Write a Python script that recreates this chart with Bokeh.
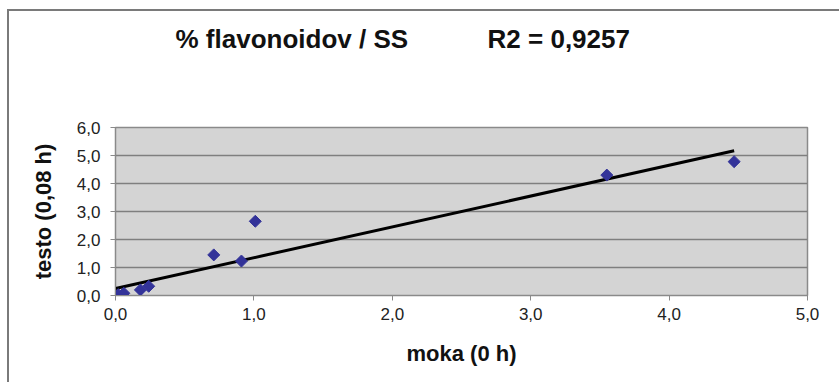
import math
from bokeh.plotting import figure
from bokeh.models import Range1d, CustomJSTickFormatter, FixedTicker, ColumnDataSource, Title
from bokeh.embed import file_html
from bokeh.resources import INLINE

# data
moka = [0.00, 0.02, 0.06, 0.18, 0.24, 0.71, 0.91, 1.01, 3.55, 4.47]
testo = [0.00, 0.03, 0.08, 0.20, 0.33, 1.45, 1.23, 2.65, 4.30, 4.78]
trend_intercept = 0.25
trend_slope = 1.10
x_ticks = [0, 1, 2, 3, 4, 5]
y_ticks = [0, 1, 2, 3, 4, 5, 6]
title_text = "% flavonoidov / SS"
r2_text = "R2 = 0,9257"
x_label = "moka (0 h)"
y_label = "testo (0,08 h)"

FONT = "Liberation Sans"
W, H = 839, 382
FL, FR, FT, FB = 115, 807, 127, 295  # frame edges in pixels

p = figure(width=W, height=H, output_backend="svg", toolbar_location=None, title=None,
           x_range=Range1d(0, 5), y_range=Range1d(0, 6),
           min_border_left=FL, min_border_right=W - FR, min_border_top=FT, min_border_bottom=H - FB)
p.background_fill_color = "#d4d4d4"
p.border_fill_alpha = 0
p.outline_line_color = "#8a8a8a"
p.outline_line_width = 1.5
p.styles = {
    "background": "linear-gradient(#7a7a7a, #7a7a7a) 7px 9px / 100% 2px no-repeat, "
                  "linear-gradient(#7a7a7a, #7a7a7a) 7px 9px / 2px 100% no-repeat, white",
}

# spacer (closest to the frame) then the real title above it
p.add_layout(Title(text="\u00a0", text_font_size="12px", standoff=58), "above")
p.add_layout(Title(text=title_text + "\u00a0" * 11 + r2_text, text_font=FONT,
                   text_font_style="bold", text_font_size="26px", text_color="#111111",
                   align="left", offset=175 - FL, standoff=0), "above")

fmt = CustomJSTickFormatter(code="return tick.toFixed(1).replace('.', ',');")
for ax, ticks in ((p.xaxis, x_ticks), (p.yaxis, y_ticks)):
    ax.ticker = FixedTicker(ticks=ticks)
    ax.formatter = fmt
    ax.major_label_text_font = FONT
    ax.major_label_text_font_size = "17px"
    ax.major_label_text_color = "#222222"
    ax.axis_line_color = "#8a8a8a"
    ax.major_tick_line_color = "#8a8a8a"
    ax.major_tick_out = 5
    ax.major_tick_in = 0
    ax.minor_tick_line_color = None
    ax.axis_label_text_font = FONT
    ax.axis_label_text_font_style = "bold"
    ax.axis_label_text_font_size = "22px"
    ax.axis_label_text_color = "#111111"
p.xaxis.axis_label = x_label
p.yaxis.axis_label = y_label
p.xaxis.major_label_standoff = 7
p.yaxis.major_label_standoff = 10
p.xaxis.axis_label_standoff = 18
p.yaxis.axis_label_standoff = 18

p.xgrid.grid_line_color = None
p.ygrid.grid_line_color = "#7f7f7f"
p.ygrid.grid_line_width = 1.5

x0, x1 = 0.0, max(moka)
p.line([x0, x1], [trend_intercept + trend_slope * x0, trend_intercept + trend_slope * x1],
       line_color="black", line_width=3)

src = ColumnDataSource(dict(x=moka, y=testo))
p.scatter("x", "y", source=src, marker="square", angle=math.pi / 4, size=8.5,
          fill_color="#333399", line_color="#333399")

open("out.html", "w").write(file_html(p, INLINE))
